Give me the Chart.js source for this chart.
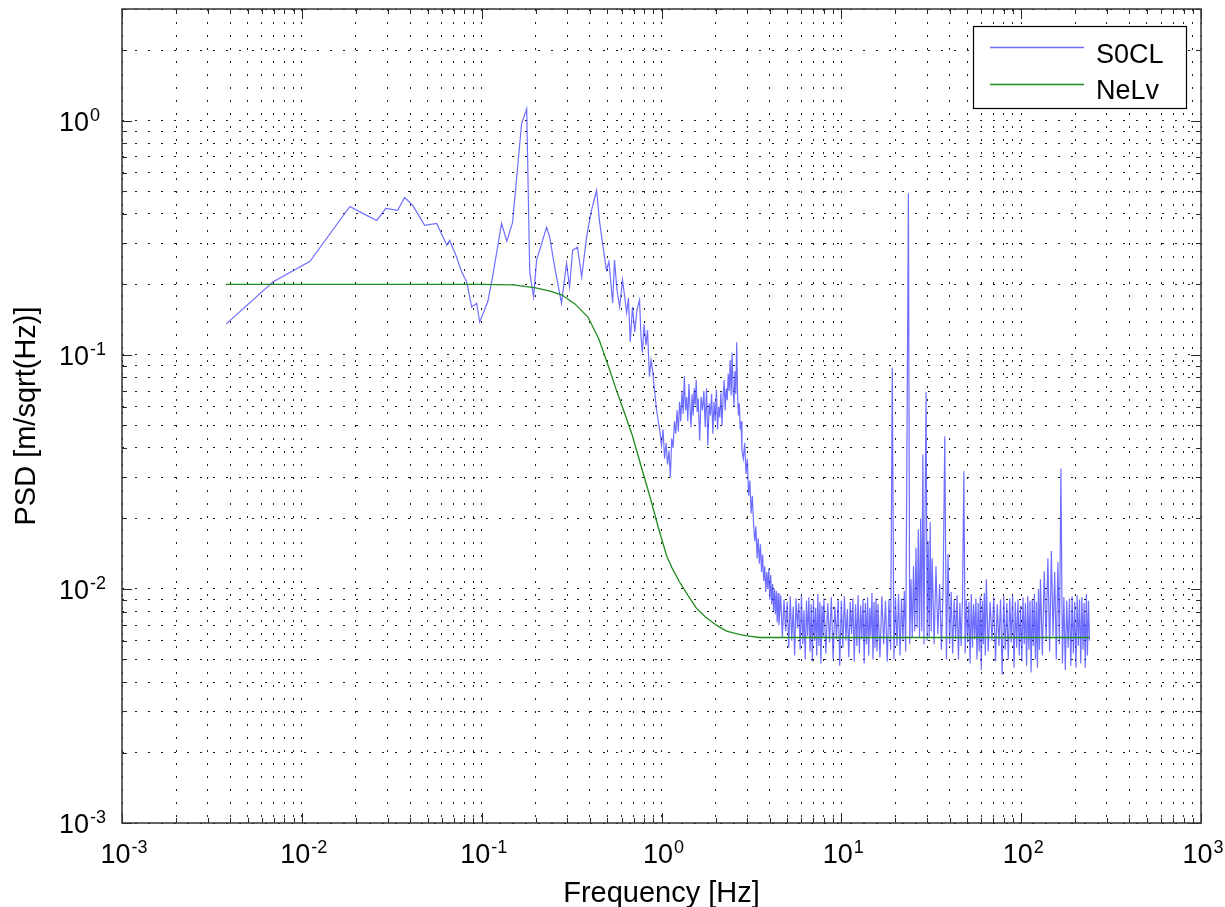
<!DOCTYPE html>
<html>
<head>
<meta charset="utf-8">
<title>PSD</title>
<script src="https://cdn.jsdelivr.net/npm/chart.js@4.4.1/dist/chart.umd.min.js"></script>
<style>
  html, body { margin: 0; padding: 0; background: #fff; }
  #wrap { width: 1225px; height: 907px; }
</style>
</head>
<body>
<div id="wrap"><canvas id="psd"></canvas></div>
<script>

// below 1 Hz
const lowFreq = [
  0.0038, 0.0069, 0.0111, 0.0185, 0.0218, 0.0261, 0.0293, 0.0341, 0.0373, 0.0414,
  0.0482, 0.0562, 0.064, 0.0664, 0.0726, 0.0775, 0.0826, 0.088, 0.0938, 0.0975,
  0.108, 0.115, 0.129, 0.138, 0.1486, 0.1667, 0.178, 0.185, 0.1945, 0.202,
  0.2296, 0.239, 0.2547, 0.278, 0.2965, 0.308, 0.3206, 0.341, 0.36, 0.383,
  0.408, 0.4355, 0.453, 0.47, 0.494, 0.51, 0.535, 0.548, 0.565, 0.585,
  0.607, 0.625, 0.64, 0.655, 0.67, 0.69, 0.71, 0.73, 0.755, 0.77,
  0.783, 0.80, 0.82, 0.836, 0.857, 0.875, 0.891, 0.914, 0.938, 0.96,
  0.98
];
const lowPsd = [
  0.1355, 0.2045, 0.251, 0.43, 0.402, 0.375, 0.422, 0.414, 0.47, 0.435,
  0.357, 0.364, 0.294, 0.308, 0.261, 0.2255, 0.2045, 0.16, 0.166, 0.138,
  0.168, 0.215, 0.364, 0.306, 0.368, 0.97, 1.125, 0.2255, 0.1766, 0.2537,
  0.3505, 0.318, 0.237, 0.166, 0.246, 0.1946, 0.28, 0.288, 0.215, 0.318,
  0.414, 0.504, 0.368, 0.30, 0.23, 0.25, 0.1665, 0.2537, 0.19, 0.16,
  0.2085, 0.175, 0.151, 0.175, 0.1136, 0.160, 0.125, 0.155, 0.1714, 0.118,
  0.102, 0.135, 0.110, 0.1277, 0.0806, 0.095, 0.0863, 0.071, 0.0584, 0.052,
  0.047
];

// 1 - 2.8 Hz plateau
const plateauFreq = [
  1.00, 1.02, 1.04, 1.06, 1.08, 1.10, 1.12, 1.14, 1.16, 1.18,
  1.20, 1.22, 1.24, 1.26, 1.28, 1.30, 1.32, 1.34, 1.36, 1.38,
  1.40, 1.42, 1.44, 1.46, 1.48, 1.50, 1.52, 1.54, 1.56, 1.58,
  1.60, 1.63, 1.66, 1.69, 1.72, 1.75, 1.78, 1.81, 1.84, 1.87,
  1.90, 1.93, 1.96, 1.99, 2.02, 2.05, 2.08, 2.11, 2.14, 2.17,
  2.20, 2.23, 2.26, 2.29, 2.32, 2.35, 2.38, 2.41, 2.44, 2.47,
  2.50, 2.53, 2.56, 2.59, 2.62, 2.65, 2.68, 2.71, 2.74, 2.77,
  2.80
];
const plateauPsd = [
  0.041, 0.048, 0.036, 0.042, 0.034, 0.039, 0.030, 0.044, 0.040, 0.052,
  0.046, 0.058, 0.047, 0.063, 0.052, 0.070, 0.056, 0.081, 0.058, 0.066,
  0.052, 0.075, 0.060, 0.049, 0.068, 0.055, 0.072, 0.061, 0.078, 0.057,
  0.065, 0.043, 0.066, 0.058, 0.070, 0.049, 0.072, 0.041, 0.062, 0.055,
  0.068, 0.046, 0.063, 0.052, 0.071, 0.048, 0.060, 0.054, 0.069, 0.050,
  0.066, 0.078, 0.058, 0.072, 0.064, 0.083, 0.070, 0.095, 0.067, 0.102,
  0.072, 0.060, 0.085, 0.068, 0.113, 0.066, 0.055, 0.062, 0.048, 0.052,
  0.039
];

// 2.85 - 4.45 Hz roll-off
const rolloffFreq = [
  2.85, 2.90, 2.95, 3.00, 3.05, 3.10, 3.15, 3.20, 3.25, 3.30,
  3.35, 3.40, 3.45, 3.50, 3.55, 3.60, 3.65, 3.70, 3.75, 3.80,
  3.85, 3.90, 3.95, 4.00, 4.05, 4.10, 4.15, 4.20, 4.25, 4.30,
  4.35, 4.40, 4.45
];
const rolloffPsd = [
  0.036, 0.042, 0.031, 0.036, 0.025, 0.029, 0.021, 0.025, 0.019, 0.016,
  0.0185, 0.0135, 0.0165, 0.0128, 0.0155, 0.0118, 0.0140, 0.0108, 0.0125, 0.0097,
  0.0118, 0.0100, 0.0122, 0.0090, 0.0115, 0.0086, 0.0105, 0.0080, 0.0100, 0.0078,
  0.0098, 0.0072, 0.0096
];

// 4.5 - 240 Hz noise floor with line spikes
const floorFreq = [
  4.5, 4.6, 4.7, 4.8, 4.9, 5.0, 5.1, 5.2, 5.3, 5.4,
  5.5, 5.6, 5.7, 5.8, 5.9, 6.0, 6.1, 6.2, 6.3, 6.4,
  6.5, 6.6, 6.7, 6.8, 6.9, 7.0, 7.1, 7.2, 7.3, 7.4,
  7.5, 7.6, 7.7, 7.8, 7.9, 8.0,
  8.2, 8.4, 8.6, 8.8, 9.0, 9.2, 9.4, 9.6, 9.8, 10.0,
  10.2, 10.4, 10.6, 10.8, 11.0, 11.2, 11.4, 11.6, 11.8, 12.0,
  12.2, 12.4, 12.6, 12.8, 13.0, 13.2, 13.4, 13.6, 13.8, 14.0,
  14.2, 14.4, 14.6, 14.8, 15.0, 15.2, 15.4, 15.6, 15.8, 16.0,
  16.4, 16.8, 17.2, 17.6, 18.0, 18.4, 18.8, 19.2, 19.6, 20.0,
  20.4, 20.8, 21.2, 21.6, 22.0, 22.4, 22.8, 23.2, 23.6, 24.0,
  24.4, 24.8, 25.2, 25.6, 26.0, 26.4, 26.8, 27.2, 27.6, 28.0,
  28.4, 28.8, 29.2, 29.6, 30.0, 30.4, 30.8, 31.2, 31.6, 32.0,
  32.8, 33.6, 34.4, 35.2, 36.0, 36.8, 37.6, 38.4, 39.2, 40.0,
  40.8, 41.6, 42.4, 43.2, 44.0, 44.8, 45.6, 46.4, 47.2, 48.0,
  48.8, 49.6, 50.4, 51.2, 52.0, 52.8, 53.6, 54.4, 55.2, 56.0,
  56.8, 57.6, 58.4, 59.2, 60.0, 60.8, 61.6, 62.4, 63.2, 64.0,
  65.6, 67.2, 68.8, 70.4, 72.0, 73.6, 75.2, 76.8, 78.4, 80.0,
  81.6, 83.2, 84.8, 86.4, 88.0, 89.6, 91.2, 92.8, 94.4, 96.0,
  97.6, 99.2, 100.8, 102.4, 104.0, 105.6, 107.2, 108.8, 110.4, 112.0,
  113.6, 115.2, 116.8, 118.4, 120.0, 121.6, 123.2, 124.8, 126.4, 128.0,
  131.2, 134.4, 137.6, 140.8, 144.0, 147.2, 150.4, 153.6, 156.8, 160.0,
  163.2, 166.4, 169.6, 172.8, 176.0, 179.2, 182.4, 185.6, 188.8, 192.0,
  195.2, 198.4, 201.6, 204.8, 208.0, 211.2, 214.4, 217.6, 220.8, 224.0,
  227.2, 230.4, 233.6, 236.8, 240.0
];
const floorPsd = [
  0.0070, 0.0094, 0.0062, 0.0090, 0.0066, 0.0088, 0.0056, 0.0093, 0.0060, 0.0084,
  0.0052, 0.0091, 0.0068, 0.0087, 0.0055, 0.0094, 0.0058, 0.0081, 0.0050, 0.0089,
  0.0063, 0.0092, 0.0054, 0.0086, 0.0049, 0.0090, 0.0060, 0.0083, 0.0052, 0.0095,
  0.0057, 0.0088, 0.0048, 0.0085, 0.0062, 0.0091,
  0.0053, 0.0087, 0.0059, 0.0092, 0.0050, 0.0084, 0.0061, 0.0090, 0.0047, 0.0089,
  0.0056, 0.0093, 0.0060, 0.0082, 0.0051, 0.0088, 0.0064, 0.0091, 0.0049, 0.0086,
  0.0057, 0.0094, 0.0053, 0.0085, 0.0061, 0.0090, 0.0048, 0.0087, 0.0058, 0.0092,
  0.0052, 0.0083, 0.0063, 0.0096, 0.0050, 0.0088, 0.0056, 0.0091, 0.0054, 0.0086,
  0.0051, 0.0093, 0.0058, 0.0089, 0.0049, 0.0090, 0.0055, 0.088, 0.0050, 0.0092,
  0.0057, 0.0095, 0.0052, 0.0091, 0.0060, 0.0098, 0.0054, 0.048, 0.49, 0.0058,
  0.0110, 0.0062, 0.0125, 0.0066, 0.0150, 0.0068, 0.0180, 0.0062, 0.0200, 0.0066,
  0.0375, 0.0058, 0.0210, 0.0696, 0.0060, 0.0160, 0.0062, 0.0193, 0.0066, 0.0135,
  0.0058, 0.0125, 0.0064, 0.0105, 0.0055, 0.0098, 0.0448, 0.0050, 0.0141, 0.0058,
  0.0097, 0.0053, 0.0090, 0.0061, 0.0094, 0.0050, 0.0087, 0.0057, 0.0092, 0.0318,
  0.0053, 0.0090, 0.0059, 0.0088, 0.0048, 0.0095, 0.0056, 0.0086, 0.0061, 0.0091,
  0.0050, 0.0087, 0.0054, 0.0093, 0.0045, 0.0089, 0.0058, 0.0096, 0.0052, 0.0110,
  0.0054, 0.0088, 0.0060, 0.0092, 0.0049, 0.0086, 0.0057, 0.0090, 0.0043, 0.0093,
  0.0055, 0.0087, 0.0050, 0.0091, 0.0059, 0.0094, 0.0046, 0.0088, 0.0056, 0.0090,
  0.0052, 0.0085, 0.0049, 0.0092, 0.0058, 0.0087, 0.0047, 0.0093, 0.0055, 0.0089,
  0.0044, 0.0090, 0.0057, 0.0095, 0.0050, 0.0088, 0.0046, 0.0100, 0.0055, 0.0110,
  0.0052, 0.0119, 0.0060, 0.0135, 0.0054, 0.0145, 0.0063, 0.0118, 0.0050, 0.0130,
  0.0058, 0.0327, 0.0048, 0.0092, 0.0045, 0.0089, 0.0056, 0.0091, 0.0047, 0.0093,
  0.0053, 0.0088, 0.0046, 0.0094, 0.0057, 0.0090, 0.0048, 0.0092, 0.0055, 0.0087,
  0.0046, 0.0095, 0.0052, 0.0089, 0.0060
];

// NeLv model curve
const nelvFreq = [
  0.0038, 0.01, 0.03, 0.1, 0.15, 0.2, 0.24, 0.28, 0.33, 0.39,
  0.45, 0.51, 0.56, 0.62, 0.69, 0.77, 0.86, 0.96, 1.07, 1.15,
  1.26, 1.4, 1.56, 1.75, 2.02, 2.3, 2.7, 3.0, 3.5, 5,
  10, 240
];
const nelvPsd = [
  0.2, 0.2, 0.2, 0.2, 0.199, 0.193, 0.187, 0.18, 0.165, 0.145,
  0.116, 0.088, 0.071, 0.057, 0.045, 0.0334, 0.025, 0.0183, 0.0138, 0.0122,
  0.0107, 0.0094, 0.0083, 0.0076, 0.0070, 0.0066, 0.0064, 0.0063, 0.0062, 0.0062,
  0.0062, 0.0062
];

// axis decades for the tick labels (10^n)
const xDecades = [-3, -2, -1, 0, 1, 2, 3];
const yDecades = [-3, -2, -1, 0];
const X_MIN = 1e-3, X_MAX = 1e3;
const Y_MIN = 1e-3, Y_MAX = 3;

const FONT = '"Liberation Sans", Arial, Helvetica, sans-serif';

const s0clFreq = [...lowFreq, ...plateauFreq, ...rolloffFreq, ...floorFreq];
const s0clPsd = [...lowPsd, ...plateauPsd, ...rolloffPsd, ...floorPsd];

function logTicks(min, max) {
  const out = [];
  for (let e = Math.floor(Math.log10(min)); e <= Math.ceil(Math.log10(max)); e++) {
    for (let m = 1; m <= 9; m++) {
      const v = m * Math.pow(10, e);
      if (v >= min * 0.999 && v <= max * 1.001) out.push({ value: v, major: m === 1 });
    }
  }
  return out;
}

function toPoints(fs, vs) {
  return fs.map((f, i) => ({ x: f, y: vs[i] }));
}

// draws "10" with a raised exponent
function powerLabel(ctx, n, x, y, align) {
  ctx.font = "27px " + FONT;
  const base = "10";
  const wb = ctx.measureText(base).width;
  ctx.font = "18px " + FONT;
  const ex = String(n);
  const we = ctx.measureText(ex).width;
  const total = wb + 1 + we;
  const left = align === "center" ? x - total / 2 : x;
  ctx.font = "27px " + FONT;
  ctx.fillText(base, left, y);
  ctx.font = "18px " + FONT;
  ctx.fillText(ex, left + wb + 1, y - 10);
}

const matlabFrame = {
  id: "matlabFrame",
  afterDraw(chart) {
    const { ctx, chartArea: a, scales } = chart;
    const xs = scales.x, ys = scales.y;
    ctx.save();

    // tick marks, all four sides
    ctx.strokeStyle = "#262626";
    ctx.lineWidth = 1;
    ctx.beginPath();
    logTicks(X_MIN, X_MAX).forEach((t) => {
      const px = Math.round(xs.getPixelForValue(t.value)) + 0.5;
      const len = t.major ? 10 : 5;
      ctx.moveTo(px, a.bottom); ctx.lineTo(px, a.bottom - len);
      ctx.moveTo(px, a.top); ctx.lineTo(px, a.top + len);
    });
    logTicks(Y_MIN, Y_MAX).forEach((t) => {
      const py = Math.round(ys.getPixelForValue(t.value)) + 0.5;
      const len = t.major ? 10 : 5;
      ctx.moveTo(a.left, py); ctx.lineTo(a.left + len, py);
      ctx.moveTo(a.right, py); ctx.lineTo(a.right - len, py);
    });
    ctx.stroke();

    // box
    ctx.lineWidth = 1.5;
    ctx.strokeStyle = "#333";
    ctx.strokeRect(a.left, a.top, a.right - a.left, a.bottom - a.top);

    // tick labels
    ctx.fillStyle = "#000";
    ctx.textBaseline = "alphabetic";
    ctx.textAlign = "left";
    xDecades.forEach((n) => {
      const px = xs.getPixelForValue(Math.pow(10, n));
      powerLabel(ctx, n, px + 2, 863, "center");
    });
    yDecades.forEach((n) => {
      const py = ys.getPixelForValue(Math.pow(10, n));
      powerLabel(ctx, n, 59, py + 10, "left");
    });

    // axis titles
    ctx.font = "29px " + FONT;
    ctx.textAlign = "center";
    ctx.fillText("Frequency [Hz]", (a.left + a.right) / 2, 902);
    ctx.save();
    ctx.translate(35, (a.top + a.bottom) / 2);
    ctx.rotate(-Math.PI / 2);
    ctx.fillText("PSD [m/sqrt(Hz)]", 0, 0);
    ctx.restore();

    // legend
    const lx = 973, ly = 26, lw = 213, lh = 82;
    ctx.fillStyle = "#fff";
    ctx.fillRect(lx, ly, lw, lh);
    ctx.lineWidth = 1.2;
    ctx.strokeStyle = "#000";
    ctx.strokeRect(lx + 0.5, ly + 0.5, lw, lh);
    const rows = [
      { ds: chart.data.datasets[0], lineY: 47, textY: 63 },
      { ds: chart.data.datasets[1], lineY: 84, textY: 99 },
    ];
    ctx.font = "27px " + FONT;
    ctx.textAlign = "left";
    rows.forEach((r) => {
      ctx.strokeStyle = r.ds.borderColor;
      ctx.lineWidth = 1.5;
      ctx.beginPath();
      ctx.moveTo(990, r.lineY + 0.5);
      ctx.lineTo(1084, r.lineY + 0.5);
      ctx.stroke();
      ctx.fillStyle = "#000";
      ctx.fillText(r.ds.label, 1096, r.textY);
    });
    ctx.restore();
  },
};

const gridOpts = {
  color: "rgba(0,0,0,0.9)",
  lineWidth: 1,
  drawTicks: false,
};

new Chart(document.getElementById("psd"), {
  type: "line",
  data: {
    datasets: [
      {
        label: "S0CL",
        data: toPoints(s0clFreq, s0clPsd),
        borderColor: "rgba(50,50,255,0.7)",
        borderWidth: 1.2,
        pointRadius: 0,
        tension: 0,
        order: 1,
      },
      {
        label: "NeLv",
        data: toPoints(nelvFreq, nelvPsd),
        borderColor: "rgb(30,140,30)",
        borderWidth: 1.3,
        pointRadius: 0,
        tension: 0,
        order: 0,
      },
    ],
  },
  options: {
    responsive: true,
    maintainAspectRatio: false,
    animation: false,
    events: [],
    layout: { padding: { left: 0, top: 9, right: 24, bottom: 0 } },
    plugins: {
      legend: { display: false },
      tooltip: { enabled: false },
    },
    scales: {
      x: {
        type: "logarithmic",
        min: X_MIN,
        max: X_MAX,
        grid: gridOpts,
        border: { display: false, dash: [2, 11] },
        ticks: { display: false },
        afterBuildTicks: (s) => { s.ticks = logTicks(X_MIN, X_MAX); },
        afterFit: (s) => { s.height = 84; },
      },
      y: {
        type: "logarithmic",
        min: Y_MIN,
        max: Y_MAX,
        grid: gridOpts,
        border: { display: false, dash: [2, 11] },
        ticks: { display: false },
        afterBuildTicks: (s) => { s.ticks = logTicks(Y_MIN, Y_MAX); },
        afterFit: (s) => { s.width = 122; },
      },
    },
  },
  plugins: [matlabFrame],
});
</script>
</body>
</html>
